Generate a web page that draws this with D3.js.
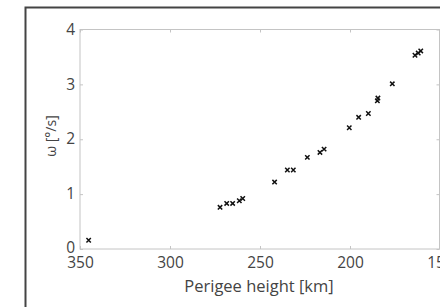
<!DOCTYPE html>
<html><head><meta charset="utf-8">
<script src="https://cdn.jsdelivr.net/npm/d3@7"></script>
<style>body{margin:0;background:#fff}svg{display:block}</style>
</head><body>
<script>
const perigeeKm = [345.2,272.2,268.5,265.2,261.5,259.6,241.9,234.8,231.5,223.7,216.7,214.4,200.4,195.2,189.8,184.8,184.5,176.5,163.9,162.1,160.7];
const omega     = [0.16,0.76,0.83,0.83,0.88,0.92,1.22,1.44,1.44,1.67,1.76,1.82,2.21,2.40,2.47,2.70,2.75,3.01,3.53,3.57,3.61];
const xTicks = [350,300,250,200,150];
const yTicks = [0,1,2,3,4];

const W=440,H=307;
const svg=d3.select("body").append("svg").attr("width",W).attr("height",H);
const x=d3.scaleLinear().domain([350,150]).range([80,440]);
const y=d3.scaleLinear().domain([0,4]).range([249,29.5]);
const font="'Open Sans', sans-serif";

// outer frame
svg.append("rect").attr("x",25.5).attr("y",7.5).attr("width",440).attr("height",330)
  .attr("fill","none").attr("stroke","#444").attr("stroke-width",2);

// axes box
svg.append("rect").attr("x",80).attr("y",29.5).attr("width",359.5).attr("height",219.5)
  .attr("fill","none").attr("stroke","#c4c4c4").attr("stroke-width",1);

const g=svg.append("g");
const fmt=d3.format("d");
const xb=g.append("g").attr("transform","translate(0,249)")
  .call(d3.axisBottom(x).tickValues(xTicks).tickSize(-3).tickPadding(5).tickFormat(fmt));
g.append("g").attr("transform","translate(0,29.5)")
  .call(d3.axisTop(x).tickValues(xTicks).tickSize(-3).tickFormat(""));
const yl=g.append("g").attr("transform","translate(80,0)")
  .call(d3.axisLeft(y).tickValues(yTicks).tickSize(-3).tickPadding(5).tickFormat(fmt));
g.append("g").attr("transform","translate(439.5,0)")
  .call(d3.axisRight(y).tickValues(yTicks).tickSize(-3).tickFormat(""));
g.selectAll(".domain").remove();
g.selectAll(".tick line").attr("stroke","#c4c4c4");
g.selectAll(".tick text").attr("fill","#444").style("font-family",font).style("font-size","15.5px");
xb.selectAll(".tick text").attr("dy","0.9em");
yl.selectAll(".tick text").attr("dy",d=>d===0?"0.22em":"0.3em");

// points
const cross=(px,py,s)=>`M${px-s},${py-s}L${px+s},${py+s}M${px-s},${py+s}L${px+s},${py-s}`;
svg.append("g").selectAll("path").data(perigeeKm.map((k,i)=>[k,omega[i]])).join("path")
  .attr("d",d=>cross(x(d[0]),y(d[1]),2.2))
  .attr("stroke","#111").attr("stroke-width",1.5).attr("fill","none");

// labels
svg.append("text").attr("x",259).attr("y",292).attr("text-anchor","middle")
  .attr("fill","#444").style("font-family",font).style("font-size","16.5px").text("Perigee height [km]");
svg.append("text").attr("transform","translate(56,136) rotate(-90)").attr("text-anchor","middle")
  .attr("fill","#444").style("font-family",font).style("font-size","14px").text("ω [°/s]");
</script>
</body></html>
